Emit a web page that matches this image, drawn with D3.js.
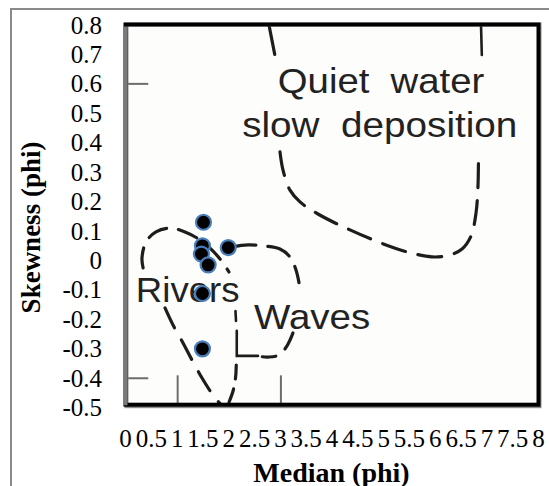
<!DOCTYPE html>
<html>
<head>
<meta charset="utf-8">
<script src="https://cdn.jsdelivr.net/npm/d3@7"></script>
<style>
  html, body { margin: 0; padding: 0; background: #ffffff; }
  svg { display: block; }
</style>
</head>
<body>
<script>
// ---------- data ----------
const medianPhi   = [1.52, 1.50, 1.48, 1.61, 2.00, 1.50, 1.50];
const skewnessPhi = [0.13, 0.05, 0.022, -0.015, 0.044, -0.112, -0.30];

const xTickValues = [0, 0.5, 1, 1.5, 2, 2.5, 3, 3.5, 4, 4.5, 5, 5.5, 6, 6.5, 7, 7.5, 8];
const yTickValues = [0.8, 0.7, 0.6, 0.5, 0.4, 0.3, 0.2, 0.1, 0, -0.1, -0.2, -0.3, -0.4, -0.5];

// background diagram (field boundaries, in median / skewness units)
const quietTop      = [[2.789, 0.800], [2.906, 0.695]];
const quietCurve    = [[3.002, 0.369], [3.061, 0.307], [3.196, 0.239], [3.390, 0.199], [3.738, 0.158],
                       [4.358, 0.104], [5.056, 0.053], [5.617, 0.022], [6.005, 0.012], [6.296, 0.019],
                       [6.528, 0.039], [6.702, 0.083], [6.799, 0.161], [6.838, 0.256], [6.847, 0.369]];
const quietRightTop = [[6.896, 0.800], [6.912, 0.698]];
const riversUpper   = [[0.35, -0.025], [0.329, 0.008], [0.407, 0.063], [0.600, 0.097], [0.872, 0.110],
                       [1.162, 0.097], [1.453, 0.070], [1.705, 0.032], [1.898, -0.008], [2.014, -0.039]];
const riversLower   = [[0.775, -0.161], [0.930, -0.219], [1.124, -0.280], [1.298, -0.338],
                       [1.492, -0.399], [1.705, -0.457], [1.879, -0.494]];
const riversRight   = [[2.155, -0.355], [2.140, -0.400], [2.090, -0.445], [1.990, -0.492]];
const riversNotch   = [[2.140, -0.172], [2.150, -0.205]];
const wavesTop      = [[2.073, 0.046], [2.383, 0.053], [2.712, 0.049], [3.002, 0.039],
                       [3.196, 0.012], [3.312, -0.032], [3.370, -0.075]];
const wavesBottom   = [[3.254, -0.246], [3.138, -0.290], [2.983, -0.321], [2.770, -0.328], [2.660, -0.327]];
const wavesCorner   = [[2.165, -0.239], [2.165, -0.324], [2.576, -0.324]];
const imageTicksX   = [1.02, 3.02];
const imageTicksY   = [0.6, -0.4];

const fieldLabels = [
  { text: "Quiet  water",      x: 2.96, y: 0.569, w: 4.0  },
  { text: "slow  deposition",  x: 2.27, y: 0.420, w: 5.33 },
  { text: "Rivers",            x: 0.21, y: -0.140, w: 2.01 },
  { text: "Waves",             x: 2.50, y: -0.231, w: 2.25 }
];

// ---------- layout ----------
const W = 549, H = 486;
const plot = { left: 125, right: 538, top: 25, bottom: 407.7 };

const svg = d3.select("body").append("svg")
  .attr("width", W).attr("height", H);

// outer chart border
svg.append("rect")
  .attr("x", 11).attr("y", 9)
  .attr("width", 700).attr("height", 700)
  .attr("fill", "#ffffff")
  .attr("stroke", "#8a8a8a").attr("stroke-width", 2);

const x = d3.scaleLinear().domain([0, 8]).range([plot.left, plot.right]);
const y = d3.scaleLinear().domain([-0.5, 0.8]).range([plot.bottom, plot.top]);

// plot area (scanned diagram)
svg.append("rect")
  .attr("x", x(0)).attr("y", y(0.8) - 1)
  .attr("width", x(8) - x(0)).attr("height", y(-0.5) - y(0.8))
  .attr("fill", "#fdfdfc");

const g = svg.append("g");

const line = d3.line().x(d => x(d[0])).y(d => y(d[1])).curve(d3.curveCatmullRom.alpha(0.5));
const ink = "#1d1d1d";

function dashed(pts, dash) {
  g.append("path").attr("d", line(pts))
    .attr("fill", "none").attr("stroke", ink)
    .attr("stroke-width", 3.2).attr("stroke-linecap", "round")
    .attr("stroke-dasharray", dash || "22,13");
}
function solid(pts, wdt) {
  g.append("path").attr("d", d3.line().x(d => x(d[0])).y(d => y(d[1]))(pts))
    .attr("fill", "none").attr("stroke", ink)
    .attr("stroke-width", wdt || 3).attr("stroke-linecap", "round");
}

dashed(quietTop, "30,200");
dashed(quietCurve, "24,13");
solid(quietRightTop, 2.6);
dashed(riversUpper, "20,12");
dashed(riversLower, "22,14");
dashed(riversRight, "14,10");
solid(riversNotch, 2.6);
dashed(wavesTop, "24,12");
dashed(wavesBottom, "18,12");
solid(wavesCorner, 2.6);

// tick marks printed on the scanned diagram
imageTicksY.forEach(v => {
  g.append("line")
    .attr("x1", x(0) + 2).attr("x2", x(0.45))
    .attr("y1", y(v)).attr("y2", y(v))
    .attr("stroke", "#6d6d6d").attr("stroke-width", 2);
});
imageTicksX.forEach(v => {
  g.append("line")
    .attr("x1", x(v)).attr("x2", x(v))
    .attr("y1", y(-0.5) - 3).attr("y2", y(-0.39))
    .attr("stroke", "#6d6d6d").attr("stroke-width", 2);
});

// field labels of the diagram
g.selectAll("text.field").data(fieldLabels).enter().append("text")
  .attr("class", "field")
  .attr("x", d => x(d.x)).attr("y", d => y(d.y))
  .attr("textLength", d => x(d.w) - x(0))
  .attr("lengthAdjust", "spacingAndGlyphs")
  .attr("font-family", "'Liberation Sans', Arial, sans-serif")
  .attr("font-size", 35)
  .attr("fill", "#222")
  .style("white-space", "pre")
  .text(d => d.text);

// frame of the scanned diagram
svg.append("rect")
  .attr("x", x(0) + 1.5).attr("y", y(0.8) - 0.5)
  .attr("width", x(8) - x(0)).attr("height", y(-0.5) - y(0.8) - 1)
  .attr("fill", "none").attr("stroke", "#8d8d8d").attr("stroke-width", 4);
svg.append("rect")
  .attr("x", x(0) + 0.5).attr("y", y(0.8) - 0.5)
  .attr("width", x(8) - x(0)).attr("height", y(-0.5) - y(0.8) - 2.5)
  .attr("fill", "none").attr("stroke", "#000").attr("stroke-width", 4);
svg.append("line")
  .attr("x1", x(0) + 0.5).attr("x2", x(0) + 0.5)
  .attr("y1", y(0.8) + 1.5).attr("y2", y(-0.5) - 2.5)
  .attr("stroke", "#7a7a7a").attr("stroke-width", 4);

// data points
svg.append("g").selectAll("circle")
  .data(medianPhi.map((m, i) => [m, skewnessPhi[i]]))
  .enter().append("circle")
  .attr("cx", d => x(d[0])).attr("cy", d => y(d[1]))
  .attr("r", 7.5)
  .attr("fill", "#000")
  .attr("stroke", "#4a7ebb").attr("stroke-width", 2.2);

// axes
const serif = "'Liberation Serif', 'Times New Roman', serif";

const yAxis = svg.append("g")
  .attr("transform", `translate(${plot.left},0)`)
  .call(d3.axisLeft(y).tickValues(yTickValues).tickSize(0).tickPadding(23)
        .tickFormat(d => String(d)));
yAxis.select(".domain").remove();
yAxis.attr("font-family", serif).attr("font-size", 25);
yAxis.selectAll("text").style("font-family", serif).style("font-size", "25px").attr("fill", "#000");

const xAxis = svg.append("g")
  .attr("transform", `translate(0,${plot.bottom})`)
  .call(d3.axisBottom(x).tickValues(xTickValues).tickSize(0)
        .tickFormat(d => String(d)));
xAxis.select(".domain").remove();
xAxis.attr("font-family", serif).attr("font-size", 25);
xAxis.selectAll("text")
  .attr("y", 39.5).attr("dy", 0)
  .style("font-family", serif).style("font-size", "25px").attr("fill", "#000");

// axis titles
svg.append("text")
  .attr("x", (plot.left + plot.right) / 2).attr("y", 481.5)
  .attr("text-anchor", "middle")
  .style("font-family", serif).attr("font-weight", "bold").style("font-size", "28px")
  .text("Median (phi)");

svg.append("text")
  .attr("transform", "translate(40,227.5) rotate(-90)")
  .attr("text-anchor", "middle")
  .style("font-family", serif).attr("font-weight", "bold").style("font-size", "27px")
  .text("Skewness (phi)");
</script>
</body>
</html>
